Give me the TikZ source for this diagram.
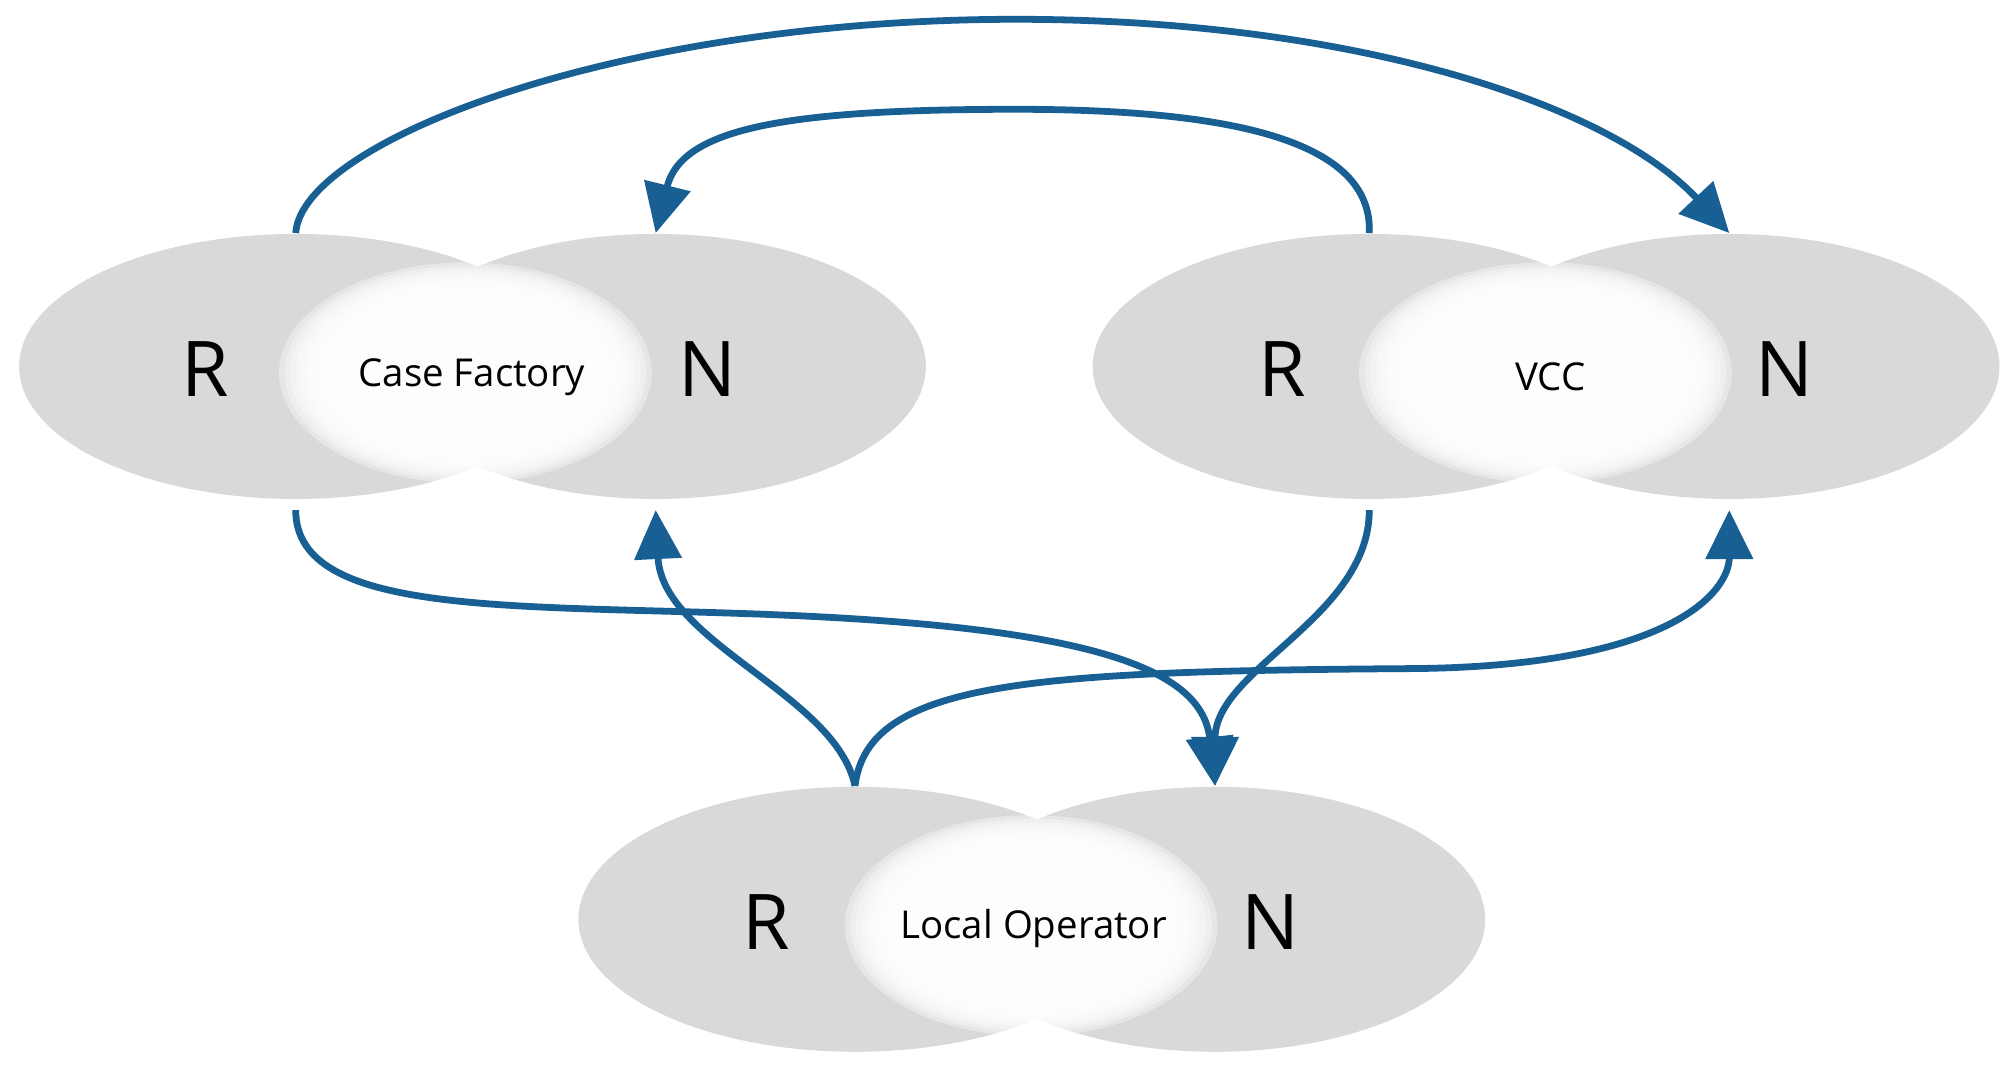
\documentclass[tikz,border=0pt]{standalone}
\usepackage{fontspec}
\setmainfont{Open Sans}
\usetikzlibrary{arrows.meta,shapes.geometric}
\definecolor{arr}{RGB}{24,96,148}
\definecolor{gr}{RGB}{217,217,217}
\tikzset{
 blob/.style={ellipse,fill=gr,minimum width=4.3cm,minimum height=2.06cm,inner sep=0},
 big/.style={font=\fontsize{17}{17}\selectfont},
 small/.style={font=\fontsize{8.5}{9}\selectfont},
 con/.style={draw=arr,line width=1.5pt,-{Triangle[length=0.38cm,width=0.36cm]}},
}
\newcommand{\softwhite}[2]{%
 \foreach \k in {1.0,0.97,0.94,0.91,0.88,0.85,0.82,0.79}{%
  \fill[white,opacity=0.35] (#1,#2) ellipse ({145*\k} and {86*\k});}
}
\begin{document}
\begin{tikzpicture}[x=0.01cm,y=-0.01cm]
\useasboundingbox (0,0) rectangle (1568,830);
\fill[white] (0,0) rectangle (1568,830);
% Case Factory
\node[blob] (cfR) at (230,285) {};
\node[blob,minimum width=4.2cm] (cfN) at (510,285) {};
\softwhite{362}{290}
% VCC
\node[blob] (vR) at (1065,285) {};
\node[blob,minimum width=4.2cm] (vN) at (1345,285) {};
\softwhite{1202}{290}
% Local Operator
\node[blob] (lR) at (665,715) {};
\node[blob,minimum width=4.2cm] (lN) at (945,715) {};
\softwhite{802}{720}
% labels
\node[big] (t1) at (160,287) {R};
\node[big] (t2) at (550,287) {N};
\node[big] (t3) at (997,287) {R};
\node[big] (t4) at (1388,287) {N};
\node[big] (t5) at (596,717) {R};
\node[big] (t6) at (988,717) {N};
\node[small] (c1) at (367,293) {Case Factory};
\node[small] (c2) at (1206,293) {VCC};
\node[small] (c3) at (804,722) {Local Operator};
% connectors
\draw[con] (cfR.north) .. controls (235,110) and (480,15) .. (790,15) .. controls (1050,15) and (1250,80) .. (vN.north);
\draw[con] (vR.north) .. controls (1068,110) and (960,85) .. (790,85) .. controls (610,85) and (530,100) .. (cfN.north);
\draw[con] ([yshift=-0.08cm]cfR.south) .. controls (230,480) and (400,470) .. (600,478) .. controls (850,488) and (935,520) .. (lN.north);
\draw[con] ([yshift=-0.08cm]vR.south) .. controls (1065,480) and (945,520) .. (lN.north);
\draw[con] (lR.north) .. controls (650,540) and (515,500) .. ([yshift=-0.08cm]cfN.south);
\draw[con] (lR.north) .. controls (675,530) and (800,522) .. (1100,520) .. controls (1300,518) and (1345,460) .. ([yshift=-0.08cm]vN.south);
\end{tikzpicture}
\end{document}
